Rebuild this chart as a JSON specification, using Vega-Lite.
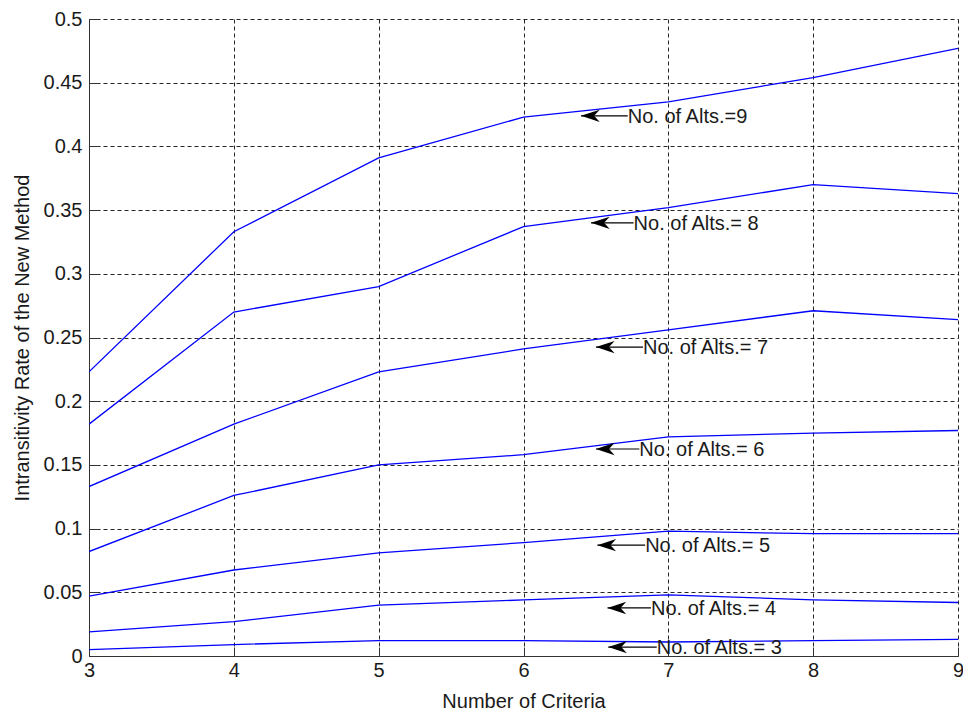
{
  "$schema": "https://vega.github.io/schema/vega-lite/v6.json",
  "width": 869,
  "height": 637,
  "autosize": {"type": "none"},
  "padding": {"left": 89, "top": 19, "right": 5, "bottom": 57},
  "background": "white",
  "config": {
    "view": {"stroke": null},
    "font": "Liberation Sans",
    "axis": {
      "labelFont": "Liberation Sans",
      "titleFont": "Liberation Sans",
      "labelFontSize": 20,
      "titleFontSize": 20,
      "titleFontWeight": "normal",
      "labelColor": "#1a1a1a",
      "titleColor": "#1a1a1a",
      "domainColor": "#333333",
      "tickColor": "#333333",
      "tickSize": -9,
      "gridColor": "#000000",
      "gridOpacity": 0.85,
      "gridDash": [4, 3],
      "gridWidth": 1
    }
  },
  "datasets": {
    "series": [
      {"n": 9, "c": 3, "r": 0.223}, {"n": 9, "c": 4, "r": 0.333}, {"n": 9, "c": 5, "r": 0.391}, {"n": 9, "c": 6, "r": 0.423}, {"n": 9, "c": 7, "r": 0.435}, {"n": 9, "c": 8, "r": 0.454}, {"n": 9, "c": 9, "r": 0.477},
      {"n": 8, "c": 3, "r": 0.182}, {"n": 8, "c": 4, "r": 0.270}, {"n": 8, "c": 5, "r": 0.290}, {"n": 8, "c": 6, "r": 0.337}, {"n": 8, "c": 7, "r": 0.352}, {"n": 8, "c": 8, "r": 0.370}, {"n": 8, "c": 9, "r": 0.363},
      {"n": 7, "c": 3, "r": 0.133}, {"n": 7, "c": 4, "r": 0.182}, {"n": 7, "c": 5, "r": 0.223}, {"n": 7, "c": 6, "r": 0.241}, {"n": 7, "c": 7, "r": 0.256}, {"n": 7, "c": 8, "r": 0.271}, {"n": 7, "c": 9, "r": 0.264},
      {"n": 6, "c": 3, "r": 0.082}, {"n": 6, "c": 4, "r": 0.126}, {"n": 6, "c": 5, "r": 0.150}, {"n": 6, "c": 6, "r": 0.158}, {"n": 6, "c": 7, "r": 0.172}, {"n": 6, "c": 8, "r": 0.175}, {"n": 6, "c": 9, "r": 0.177},
      {"n": 5, "c": 3, "r": 0.047}, {"n": 5, "c": 4, "r": 0.0675}, {"n": 5, "c": 5, "r": 0.081}, {"n": 5, "c": 6, "r": 0.089}, {"n": 5, "c": 7, "r": 0.098}, {"n": 5, "c": 8, "r": 0.096}, {"n": 5, "c": 9, "r": 0.096},
      {"n": 4, "c": 3, "r": 0.019}, {"n": 4, "c": 4, "r": 0.027}, {"n": 4, "c": 5, "r": 0.040}, {"n": 4, "c": 6, "r": 0.044}, {"n": 4, "c": 7, "r": 0.048}, {"n": 4, "c": 8, "r": 0.044}, {"n": 4, "c": 9, "r": 0.042},
      {"n": 3, "c": 3, "r": 0.005}, {"n": 3, "c": 4, "r": 0.009}, {"n": 3, "c": 5, "r": 0.012}, {"n": 3, "c": 6, "r": 0.012}, {"n": 3, "c": 7, "r": 0.011}, {"n": 3, "c": 8, "r": 0.012}, {"n": 3, "c": 9, "r": 0.013}
    ],
    "notes": [
      {"label": "No. of Alts.=9", "tip": 6.397, "start": 6.72, "y": 0.424},
      {"label": "No. of Alts.= 8", "tip": 6.466, "start": 6.76, "y": 0.340},
      {"label": "No. of Alts.= 7", "tip": 6.50, "start": 6.825, "y": 0.2425},
      {"label": "No. of Alts.= 6", "tip": 6.50, "start": 6.80, "y": 0.1625},
      {"label": "No. of Alts.= 5", "tip": 6.51, "start": 6.84, "y": 0.087},
      {"label": "No. of Alts.= 4", "tip": 6.58, "start": 6.88, "y": 0.0377},
      {"label": "No. of Alts.= 3", "tip": 6.585, "start": 6.92, "y": 0.007}
    ]
  },
  "layer": [
    {
      "data": {"name": "series"},
      "mark": {"type": "line", "color": "#0000ff", "strokeWidth": 1.3, "clip": true},
      "encoding": {
        "x": {
          "field": "c", "type": "quantitative",
          "scale": {"domain": [3, 9], "nice": false, "zero": false},
          "axis": {"values": [3, 4, 5, 6, 7, 8, 9], "format": "d", "title": "Number of Criteria", "labelPadding": 13, "titlePadding": 11, "labelFlush": false}
        },
        "y": {
          "field": "r", "type": "quantitative",
          "scale": {"domain": [0, 0.5], "nice": false},
          "axis": {"values": [0, 0.05, 0.1, 0.15, 0.2, 0.25, 0.3, 0.35, 0.4, 0.45, 0.5], "title": "Intransitivity Rate of the New Method", "labelPadding": 16, "titlePadding": 11, "labelFlush": false, "labelExpr": "datum.value == 0 ? '0' : format(datum.value, '.2~f')"}
        },
        "detail": {"field": "n", "type": "nominal"}
      }
    },
    {
      "data": {"name": "notes"},
      "mark": {"type": "rule", "color": "#000000", "strokeWidth": 1.2},
      "encoding": {
        "x": {"field": "tip", "type": "quantitative"},
        "x2": {"field": "start"},
        "y": {"field": "y", "type": "quantitative"}
      }
    },
    {
      "data": {"name": "notes"},
      "mark": {"type": "point", "shape": "M 0 0 L 1 -0.33 L 0.7 0 L 1 0.33 Z", "size": 1400, "filled": true, "color": "#000000", "opacity": 1, "strokeWidth": 0},
      "encoding": {
        "x": {"field": "tip", "type": "quantitative"},
        "y": {"field": "y", "type": "quantitative"}
      }
    },
    {
      "data": {"name": "notes"},
      "mark": {"type": "text", "align": "left", "baseline": "middle", "fontSize": 20, "font": "Liberation Sans", "color": "#1a1a1a", "dy": 1},
      "encoding": {
        "x": {"field": "start", "type": "quantitative"},
        "y": {"field": "y", "type": "quantitative"},
        "text": {"field": "label"}
      }
    }
  ]
}
